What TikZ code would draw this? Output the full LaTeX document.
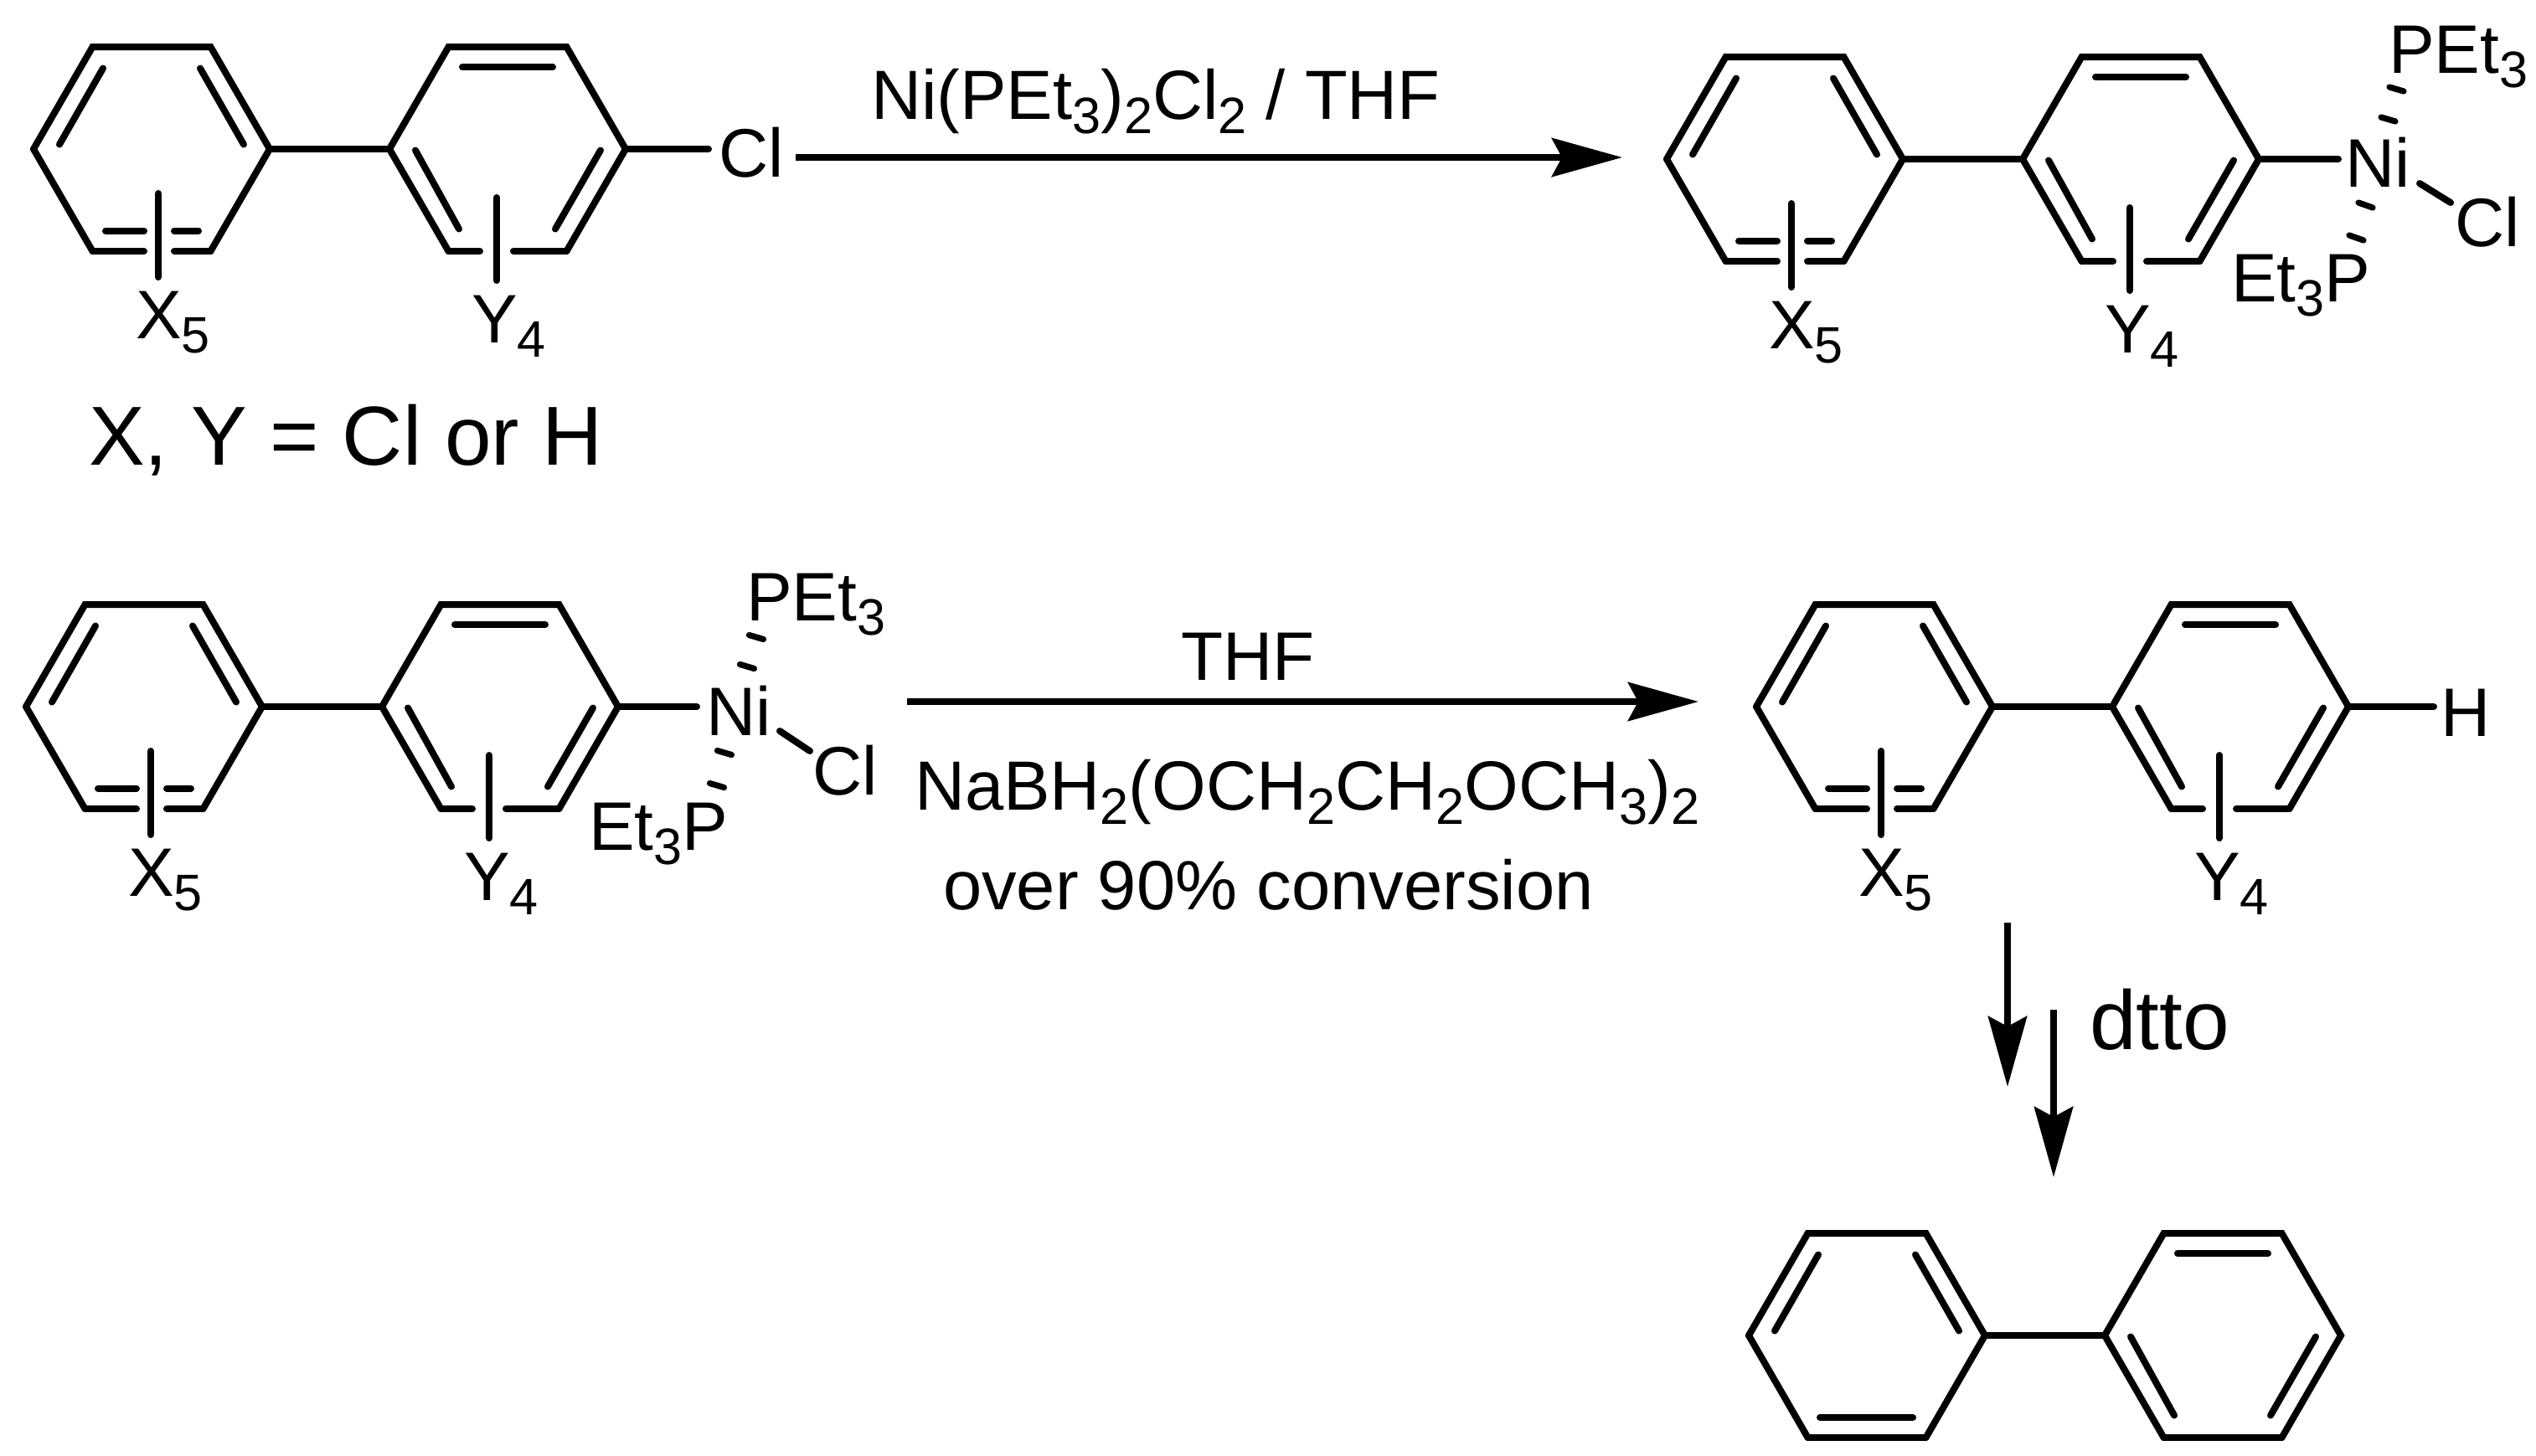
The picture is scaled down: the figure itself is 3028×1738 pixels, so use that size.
\documentclass[tikz,border=0pt]{standalone}
\usepackage{fontspec}
\setmainfont[Kerning=Off]{Liberation Sans}
\usetikzlibrary{arrows.meta}
\newcommand{\subdn}[1]{\raisebox{-4.25pt}{\fontsize{15.3}{15.3}\selectfont #1}}
\newcommand{\subdnb}[1]{\raisebox{-4.25pt}{\fontsize{15.3}{15.3}\selectfont #1}}
\tikzset{
  bond/.style={line width=2pt,line cap=round,line join=miter},
  subst/.style={line width=2pt,line cap=round},
  hash/.style={line width=1.8pt,line cap=round},
  rxn/.style={line width=2.1pt,-{Stealth[length=21pt,width=11.5pt,inset=3pt]}},
  lab/.style={anchor=base west,inner sep=0pt,outer sep=0pt,font=\fontsize{20.5}{20.5}\selectfont},
  labc/.style={anchor=base west,inner sep=0pt,outer sep=0pt,font=\fontsize{20.8}{20.8}\selectfont},
  labb/.style={anchor=base west,inner sep=0pt,outer sep=0pt,font=\fontsize{20.8}{20.8}\selectfont},
  big/.style={anchor=base west,inner sep=0pt,outer sep=0pt,font=\fontsize{25}{25}\selectfont},
}
\newcommand{\ringA}{%
  \draw[bond] (-141,0)--(-70.5,-122)--(70.5,-122)--(141,0)--(70.5,122);
  \draw[bond] (-141,0)--(-70.5,122);
  \draw[bond] (-110,-5.5)--(-58,-96.5);
  \draw[bond] (58,-96.5)--(110,-5.5);
}
\newcommand{\ringB}{%
  \draw[bond] (70.5,122)--(141,0)--(70.5,-122)--(-70.5,-122)--(-141,0)--(-70.5,122);
  \draw[bond] (-54,-98)--(54,-98);
  \draw[bond] (-110,1.5)--(-58,95.5);
  \draw[bond] (111,1.5)--(57,95.5);
}
\newcommand{\biph}[2]{%
  \begin{scope}[shift={(#1,#2)}]
    \ringA
    \draw[bond] (-70.5,122)--(-9,122);
    \draw[bond] (27,122)--(70.5,122);
    \draw[bond] (-55,97.5)--(-9,97.5);
    \draw[bond] (27,97.5)--(56,97.5);
    \draw[subst] (8,53)--(8,153);
    \node[lab] (x) at (-19,226) {X\subdn{5}};
    \draw[bond] (141,0)--(284,0);
    \begin{scope}[shift={(425,0)}]
      \ringB
      \draw[bond] (-70.5,122)--(-33,122);
      \draw[bond] (7,122)--(70.5,122);
      \draw[subst] (-13,58)--(-13,157);
      \node[lab] (y) at (-43,231) {Y\subdn{4}};
    \end{scope}
  \end{scope}
}
\begin{document}
\begin{tikzpicture}[x=0.25pt,y=-0.25pt]
\useasboundingbox (0,0) rectangle (3028,1738);
% top left
\biph{181}{178}
\draw[bond] (746,178)--(846,178);
\node[lab] (cl1) at (858,211) {Cl};
\node[big] (xy) at (106,555) {X, Y = Cl or H};
\coordinate (a1s) at (950,188); \coordinate (a1e) at (1937,188);
\draw[rxn] (a1s)--(a1e);
\node[labc] (cat) at (1040,142) {Ni(PEt\subdn{3})\subdn{2}Cl\subdn{2} / THF};
% top right
\biph{2131}{190}
\draw[bond] (2696,190)--(2792,190);
\node[lab] (ni1) at (2800,223) {Ni};
\node[lab] (pa1) at (2852,87) {PEt\subdn{3}};
\node[lab] (cla1) at (2931,294) {Cl};
\node[lab] (pb1) at (2664,360) {Et\subdn{3}P};
\draw[bond] (2889,219)--(2926,242);
\draw[hash] (2853,104)--(2870,109);
\draw[hash] (2843,140)--(2860,145);
\draw[hash] (2816,242)--(2833,248);
\draw[hash] (2805,281)--(2822,287);
% second row left
\biph{172}{844}
\draw[bond] (738,844)--(832,844);
\node[lab] (ni2) at (843,878) {Ni};
\node[lab] (pa2) at (891,741) {PEt\subdn{3}};
\node[lab] (cla2) at (970,949) {Cl};
\node[lab] (pb2) at (703,1015) {Et\subdn{3}P};
\draw[bond] (931,873)--(967,897);
\draw[hash] (894.5,758.5)--(911.5,763.5);
\draw[hash] (883.5,793.5)--(900.5,798.5);
\draw[hash] (856.5,896.5)--(873.5,901.5);
\draw[hash] (847.5,935.5)--(864.5,940.5);
\coordinate (a2s) at (1083,838); \coordinate (a2e) at (2028,838);
\draw[rxn] (a2s)--(a2e);
\node[lab] (thf) at (1410,812) {THF};
\node[labb] (na) at (1092,967) {NaBH\subdnb{2}(OCH\subdnb{2}CH\subdnb{2}OCH\subdnb{3})\subdnb{2}};
\node[labb] (ov) at (1126,1086) {over 90\% conversion};
% second row right
\biph{2238}{844}
\draw[bond] (2803,844)--(2906,844);
\node[lab] (h) at (2914,879) {H};
% down arrows
\coordinate (a3s) at (2397,1102); \coordinate (a3e) at (2397,1298);
\coordinate (a4s) at (2452,1206); \coordinate (a4e) at (2452,1406);
\draw[rxn] (a3s)--(a3e);
\draw[rxn] (a4s)--(a4e);
\node[big] (dt) at (2495,1253) {dtto};
% bottom biphenyl
\begin{scope}[shift={(2229,1595)}]
  \ringA
  \draw[bond] (-70.5,122)--(70.5,122);
  \draw[bond] (-56,98)--(55,98);
  \draw[bond] (141,0)--(284,0);
  \begin{scope}[shift={(425,0)}]
    \ringB
    \draw[bond] (-70.5,122)--(70.5,122);
  \end{scope}
\end{scope}
\end{tikzpicture}
\end{document}
